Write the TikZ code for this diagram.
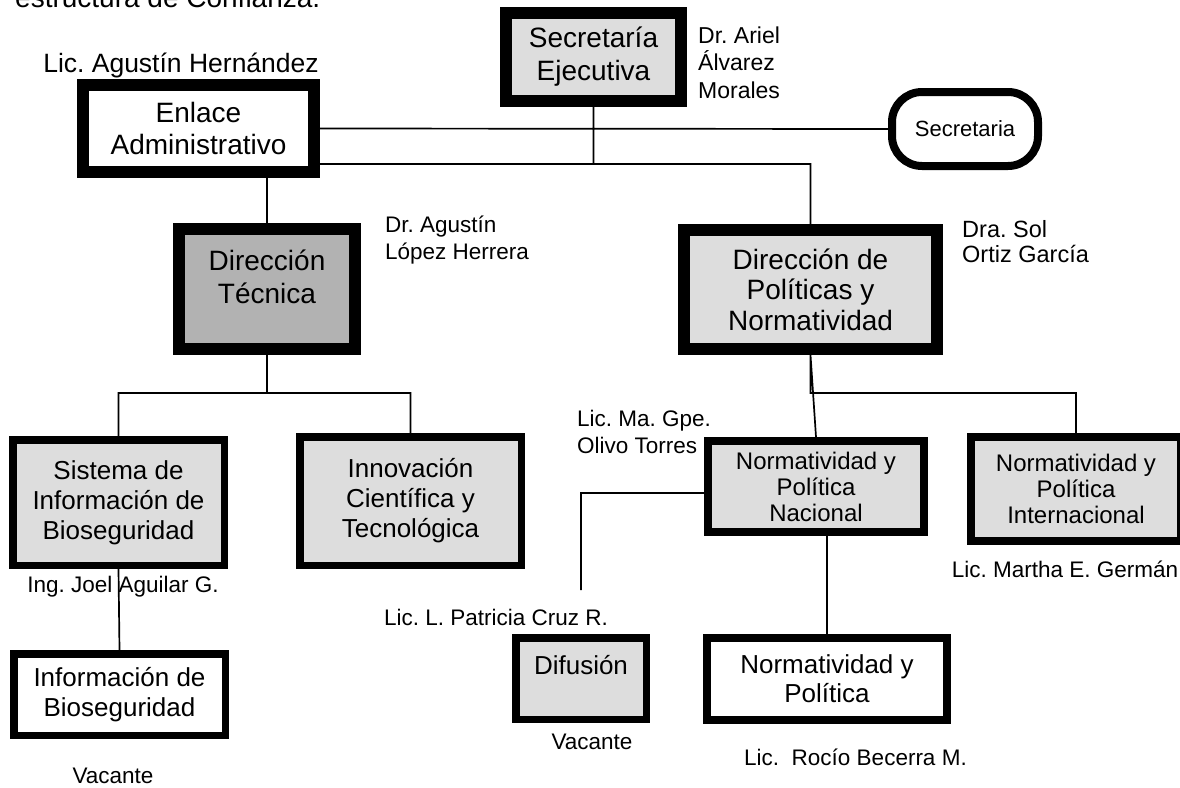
\documentclass[tikz,border=0pt]{standalone}
\usepackage{fontspec}
\setmainfont{Liberation Sans}
\frenchspacing
\definecolor{grisclaro}{HTML}{DDDDDD}
\definecolor{grisoscuro}{HTML}{B2B2B2}
\newcommand{\fsz}[2]{\fontsize{#1}{#2}\selectfont}

\begin{document}
\begin{tikzpicture}[
        x=1pt, y=-1pt,
        caja/.style = {rectangle, draw, line width=7.5pt, fill=grisclaro, inner sep=0pt, align=center, font=\fsz{26}{30}},
        cajagruesa/.style = {caja, line width=12pt, font=\fsz{28}{33}},
        cajamedia/.style = {caja, line width=8pt, font=\fsz{24}{26}},
        nombre/.style = {inner sep=0pt, align=left, font=\fsz{22.5}{26.5}},
        linea/.style = {black, line width=1.7pt}
        ]

        \useasboundingbox (0,0) rectangle (1180,787);
        \clip (0,0) rectangle (1180,787);
        \fill[white] (0,0) rectangle (1180,787);

        \node[anchor=base west, inner sep=0pt, font=\fsz{28}{32}] (titulo) at (15,7) {estructura de Confianza.};

        \node[cajagruesa, minimum width=175pt, minimum height=88pt] (secej) at (593.5,57) {Secretaría\\Ejecutiva};
        \node[cajagruesa, fill=white, minimum width=231pt, minimum height=87pt, font=\fsz{28}{32}] (enlace) at (198.5,128.5) {Enlace\\Administrativo};
        \node[draw, line width=8pt, rounded corners=30pt, minimum width=146pt, minimum height=74pt, inner sep=0pt, font=\fsz{22}{26}] (secre) at (965,129) {Secretaria};
        \node[cajagruesa, fill=grisoscuro, minimum width=176pt, minimum height=120pt] (dirtec) at (267,289) {};
        \node[font=\fsz{28}{33}, align=center, inner sep=0pt] (dirtectxt) at (267,276.5) {Dirección\\Técnica};
        \node[cajagruesa, minimum width=253pt, minimum height=119pt, font=\fsz{28}{30.5}] (dirpol) at (810.5,289.5) {Dirección de\\Políticas y\\Normatividad};
        \node[caja, minimum width=211.5pt, minimum height=125.5pt] (sisinf) at (118.5,502.5) {Sistema de\\Información de\\Bioseguridad};
        \node[caja, fill=white, minimum width=211.5pt, minimum height=81.5pt] (infbio) at (119.5,694.5) {Información de\\Bioseguridad};
        \node[caja, minimum width=221.5pt, minimum height=128.5pt] (innov) at (410.5,501) {Innovación\\Científica y\\Tecnológica};
        \node[cajamedia, minimum width=216pt, minimum height=91pt] (normnac) at (816,486.5) {Normatividad y\\Política\\Nacional};
        \node[cajamedia, minimum width=210pt, minimum height=104pt] (normint) at (1076,489) {Normatividad y\\Política\\Internacional};
        \node[cajamedia, fill=white, minimum width=240pt, minimum height=82pt, font=\fsz{26}{29}] (normpol) at (827,679) {Normatividad y\\Política};
        \node[caja, minimum width=130.5pt, minimum height=81.5pt] (difus) at (581,678.5) {};
        \node[font=\fsz{26}{30}, inner sep=0pt] (difustxt) at (581,665) {Difusión};

        \node[nombre, font=\fsz{26.5}{30}] (hern) at (181,65) {Lic. Agustín Hernández};
        \node[nombre, anchor=west, font=\fsz{23}{27.5}] (ariel) at (698,62.5) {Dr. Ariel\\Álvarez\\Morales};
        \node[nombre, anchor=west, font=\fsz{23.5}{25}] (sol) at (962,241.5) {Dra. Sol\\Ortiz García};
        \node[nombre, anchor=west] (lopez) at (385,240) {Dr. Agustín\\López Herrera};
        \node[nombre, anchor=west, font=\fsz{22.5}{27}] (gpe) at (577,431.5) {Lic. Ma. Gpe.\\Olivo Torres};
        \node[nombre] (aguilar) at (123,587) {Ing. Joel Aguilar G.};
        \node[nombre] (cruz) at (496,617) {Lic. L. Patricia Cruz R.};
        \node[nombre] (vacinf) at (113,776) {Vacante};
        \node[nombre] (vacdif) at (592,742) {Vacante};
        \node[nombre, anchor=west] (becerra) at (744,757) {Lic.\ \ Rocío Becerra M.};
        \node[nombre] (german) at (1065,569) {Lic. Martha E. Germán};

        \coordinate (topbus) at (593.5,164);
        \coordinate (tecbus) at (267,393);
        \coordinate (polbus) at (810.5,393);
        \coordinate (difcodo) at (581,493);
        \coordinate (difend) at (581,590);

        \draw[linea] (enlace.east) -- (secre.west)
        (secej.south) -- (topbus)
        (enlace.east |- topbus) -| (dirpol.north)
        (dirtec.north |- enlace.south) -- (dirtec.north)
        (dirtec.south) -- (tecbus)
        (sisinf.north) |- (tecbus) -| (innov.north)
        (sisinf.south) -- (infbio.north)
        (dirpol.south) -- (normnac.north)
        (dirpol.south) -- (polbus) -| (normint.north)
        (normnac.west |- difcodo) -- (difcodo) -- (difend)
        (normpol.north |- normnac.south) -- (normpol.north);

\end{tikzpicture}
\end{document}
